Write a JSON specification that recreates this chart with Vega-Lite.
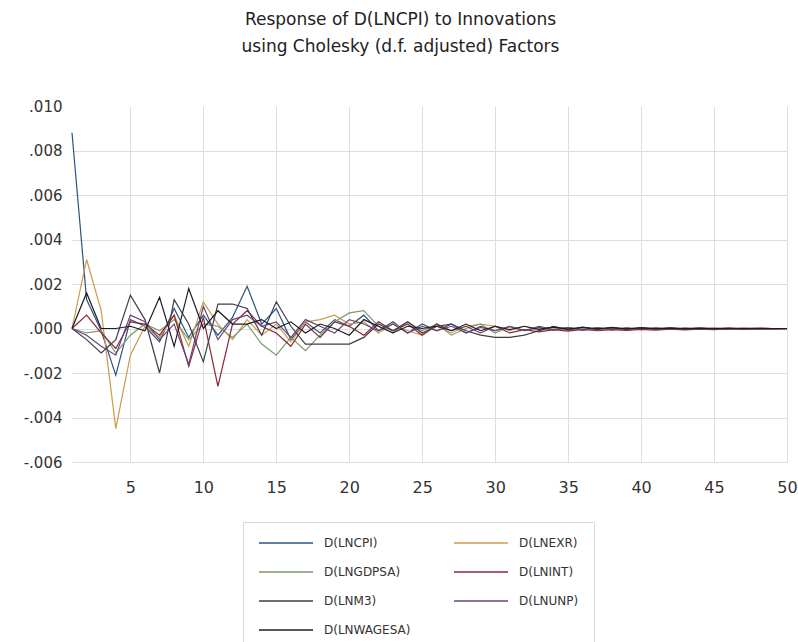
{
  "$schema": "https://vega.github.io/schema/vega-lite/v6.json",
  "width": 715,
  "height": 356,
  "autosize": "none",
  "padding": {"left": 72, "top": 106, "right": 11, "bottom": 180},
  "background": "white",
  "config": {"font": "DejaVu Sans", "view": {"stroke": null}},
  "title": {
    "text": ["Response of D(LNCPI) to Innovations", "using Cholesky (d.f. adjusted) Factors"],
    "fontSize": 17, "fontWeight": "normal", "color": "#222", "lineHeight": 27,
    "offset": 43, "anchor": "middle", "dx": -29
  },
  "data": {"values": [
    {"t":1,"s":"D(LNCPI)","v":0.0088},{"t":2,"s":"D(LNCPI)","v":0.0013},{"t":3,"s":"D(LNCPI)","v":-0.0001},{"t":4,"s":"D(LNCPI)","v":-0.0021},{"t":5,"s":"D(LNCPI)","v":0.0004},{"t":6,"s":"D(LNCPI)","v":0.0001},{"t":7,"s":"D(LNCPI)","v":-0.0006},{"t":8,"s":"D(LNCPI)","v":0.0009},{"t":9,"s":"D(LNCPI)","v":-0.0004},{"t":10,"s":"D(LNCPI)","v":0.0006},
    {"t":11,"s":"D(LNCPI)","v":-0.0003},{"t":12,"s":"D(LNCPI)","v":0.0005},{"t":13,"s":"D(LNCPI)","v":0.0019},{"t":14,"s":"D(LNCPI)","v":0.0002},{"t":15,"s":"D(LNCPI)","v":0.0009},{"t":16,"s":"D(LNCPI)","v":-0.0005},{"t":17,"s":"D(LNCPI)","v":0.0003},{"t":18,"s":"D(LNCPI)","v":-0.0002},{"t":19,"s":"D(LNCPI)","v":0.0004},{"t":20,"s":"D(LNCPI)","v":0.0001},
    {"t":21,"s":"D(LNCPI)","v":0.0006},{"t":22,"s":"D(LNCPI)","v":-0.0001},{"t":23,"s":"D(LNCPI)","v":0.0003},{"t":24,"s":"D(LNCPI)","v":-0.0002},{"t":25,"s":"D(LNCPI)","v":0.0002},{"t":26,"s":"D(LNCPI)","v":-0.0001},{"t":27,"s":"D(LNCPI)","v":0.0002},{"t":28,"s":"D(LNCPI)","v":-0.0002},{"t":29,"s":"D(LNCPI)","v":0.0001},{"t":30,"s":"D(LNCPI)","v":-0.0001},
    {"t":31,"s":"D(LNCPI)","v":0.0001},{"t":32,"s":"D(LNCPI)","v":-0.0001},{"t":33,"s":"D(LNCPI)","v":0.0001},{"t":34,"s":"D(LNCPI)","v":-0.00005},{"t":35,"s":"D(LNCPI)","v":0.00005},{"t":36,"s":"D(LNCPI)","v":-0.00008},{"t":37,"s":"D(LNCPI)","v":0.00004},{"t":38,"s":"D(LNCPI)","v":-0.00006},{"t":39,"s":"D(LNCPI)","v":0.00003},{"t":40,"s":"D(LNCPI)","v":-0.00005},
    {"t":41,"s":"D(LNCPI)","v":0.00002},{"t":42,"s":"D(LNCPI)","v":-0.00004},{"t":43,"s":"D(LNCPI)","v":0.00002},{"t":44,"s":"D(LNCPI)","v":-0.00003},{"t":45,"s":"D(LNCPI)","v":0.00001},{"t":46,"s":"D(LNCPI)","v":-0.00003},{"t":47,"s":"D(LNCPI)","v":0.00001},{"t":48,"s":"D(LNCPI)","v":-0.00002},{"t":49,"s":"D(LNCPI)","v":0.0},{"t":50,"s":"D(LNCPI)","v":-0.00001},

    {"t":1,"s":"D(LNEXR)","v":0.0},{"t":2,"s":"D(LNEXR)","v":0.0031},{"t":3,"s":"D(LNEXR)","v":0.0008},{"t":4,"s":"D(LNEXR)","v":-0.0045},{"t":5,"s":"D(LNEXR)","v":-0.0012},{"t":6,"s":"D(LNEXR)","v":0.0001},{"t":7,"s":"D(LNEXR)","v":-0.0004},{"t":8,"s":"D(LNEXR)","v":0.0006},{"t":9,"s":"D(LNEXR)","v":-0.0008},{"t":10,"s":"D(LNEXR)","v":0.0012},
    {"t":11,"s":"D(LNEXR)","v":0.0002},{"t":12,"s":"D(LNEXR)","v":-0.0005},{"t":13,"s":"D(LNEXR)","v":0.0004},{"t":14,"s":"D(LNEXR)","v":-0.0003},{"t":15,"s":"D(LNEXR)","v":0.0002},{"t":16,"s":"D(LNEXR)","v":-0.0006},{"t":17,"s":"D(LNEXR)","v":0.0003},{"t":18,"s":"D(LNEXR)","v":0.0004},{"t":19,"s":"D(LNEXR)","v":0.0006},{"t":20,"s":"D(LNEXR)","v":0.0002},
    {"t":21,"s":"D(LNEXR)","v":0.0003},{"t":22,"s":"D(LNEXR)","v":-0.0002},{"t":23,"s":"D(LNEXR)","v":0.0002},{"t":24,"s":"D(LNEXR)","v":-0.0001},{"t":25,"s":"D(LNEXR)","v":-0.0003},{"t":26,"s":"D(LNEXR)","v":0.0001},{"t":27,"s":"D(LNEXR)","v":-0.0002},{"t":28,"s":"D(LNEXR)","v":0.0001},{"t":29,"s":"D(LNEXR)","v":0.0002},{"t":30,"s":"D(LNEXR)","v":0.0001},
    {"t":31,"s":"D(LNEXR)","v":-0.0001},{"t":32,"s":"D(LNEXR)","v":0.0001},{"t":33,"s":"D(LNEXR)","v":-0.0001},{"t":34,"s":"D(LNEXR)","v":0.00003},{"t":35,"s":"D(LNEXR)","v":-0.00008},{"t":36,"s":"D(LNEXR)","v":0.00004},{"t":37,"s":"D(LNEXR)","v":-0.00006},{"t":38,"s":"D(LNEXR)","v":0.00003},{"t":39,"s":"D(LNEXR)","v":-0.00005},{"t":40,"s":"D(LNEXR)","v":0.00002},
    {"t":41,"s":"D(LNEXR)","v":-0.00004},{"t":42,"s":"D(LNEXR)","v":0.00002},{"t":43,"s":"D(LNEXR)","v":-0.00003},{"t":44,"s":"D(LNEXR)","v":0.00001},{"t":45,"s":"D(LNEXR)","v":-0.00003},{"t":46,"s":"D(LNEXR)","v":0.00001},{"t":47,"s":"D(LNEXR)","v":-0.00002},{"t":48,"s":"D(LNEXR)","v":0.00001},{"t":49,"s":"D(LNEXR)","v":-0.00001},{"t":50,"s":"D(LNEXR)","v":0.0},

    {"t":1,"s":"D(LNGDPSA)","v":0.0},{"t":2,"s":"D(LNGDPSA)","v":-0.0002},{"t":3,"s":"D(LNGDPSA)","v":-0.0001},{"t":4,"s":"D(LNGDPSA)","v":-0.0011},{"t":5,"s":"D(LNGDPSA)","v":-0.0003},{"t":6,"s":"D(LNGDPSA)","v":0.0002},{"t":7,"s":"D(LNGDPSA)","v":-0.0001},{"t":8,"s":"D(LNGDPSA)","v":0.0004},{"t":9,"s":"D(LNGDPSA)","v":-0.0005},{"t":10,"s":"D(LNGDPSA)","v":0.0002},
    {"t":11,"s":"D(LNGDPSA)","v":0.0001},{"t":12,"s":"D(LNGDPSA)","v":-0.0004},{"t":13,"s":"D(LNGDPSA)","v":0.0002},{"t":14,"s":"D(LNGDPSA)","v":-0.0007},{"t":15,"s":"D(LNGDPSA)","v":-0.0012},{"t":16,"s":"D(LNGDPSA)","v":-0.0004},{"t":17,"s":"D(LNGDPSA)","v":-0.0010},{"t":18,"s":"D(LNGDPSA)","v":-0.0003},{"t":19,"s":"D(LNGDPSA)","v":0.0003},{"t":20,"s":"D(LNGDPSA)","v":0.0007},
    {"t":21,"s":"D(LNGDPSA)","v":0.0008},{"t":22,"s":"D(LNGDPSA)","v":0.0001},{"t":23,"s":"D(LNGDPSA)","v":-0.0002},{"t":24,"s":"D(LNGDPSA)","v":0.0003},{"t":25,"s":"D(LNGDPSA)","v":-0.0001},{"t":26,"s":"D(LNGDPSA)","v":0.0002},{"t":27,"s":"D(LNGDPSA)","v":-0.0003},{"t":28,"s":"D(LNGDPSA)","v":0.0},{"t":29,"s":"D(LNGDPSA)","v":0.0002},{"t":30,"s":"D(LNGDPSA)","v":-0.0002},
    {"t":31,"s":"D(LNGDPSA)","v":0.0001},{"t":32,"s":"D(LNGDPSA)","v":-0.0001},{"t":33,"s":"D(LNGDPSA)","v":0.00005},{"t":34,"s":"D(LNGDPSA)","v":-0.00008},{"t":35,"s":"D(LNGDPSA)","v":0.00004},{"t":36,"s":"D(LNGDPSA)","v":-0.00006},{"t":37,"s":"D(LNGDPSA)","v":0.00003},{"t":38,"s":"D(LNGDPSA)","v":-0.00005},{"t":39,"s":"D(LNGDPSA)","v":0.00002},{"t":40,"s":"D(LNGDPSA)","v":-0.00004},
    {"t":41,"s":"D(LNGDPSA)","v":0.00002},{"t":42,"s":"D(LNGDPSA)","v":-0.00003},{"t":43,"s":"D(LNGDPSA)","v":0.00001},{"t":44,"s":"D(LNGDPSA)","v":-0.00003},{"t":45,"s":"D(LNGDPSA)","v":0.00001},{"t":46,"s":"D(LNGDPSA)","v":-0.00002},{"t":47,"s":"D(LNGDPSA)","v":0.00001},{"t":48,"s":"D(LNGDPSA)","v":-0.00002},{"t":49,"s":"D(LNGDPSA)","v":0.0},{"t":50,"s":"D(LNGDPSA)","v":-0.00001},

    {"t":1,"s":"D(LNINT)","v":0.0},{"t":2,"s":"D(LNINT)","v":0.0006},{"t":3,"s":"D(LNINT)","v":-0.0002},{"t":4,"s":"D(LNINT)","v":-0.0009},{"t":5,"s":"D(LNINT)","v":0.0003},{"t":6,"s":"D(LNINT)","v":0.0002},{"t":7,"s":"D(LNINT)","v":-0.0003},{"t":8,"s":"D(LNINT)","v":0.0006},{"t":9,"s":"D(LNINT)","v":-0.0017},{"t":10,"s":"D(LNINT)","v":0.0005},
    {"t":11,"s":"D(LNINT)","v":-0.0026},{"t":12,"s":"D(LNINT)","v":0.0002},{"t":13,"s":"D(LNINT)","v":0.0008},{"t":14,"s":"D(LNINT)","v":0.0001},{"t":15,"s":"D(LNINT)","v":-0.0002},{"t":16,"s":"D(LNINT)","v":-0.0008},{"t":17,"s":"D(LNINT)","v":0.0002},{"t":18,"s":"D(LNINT)","v":-0.0004},{"t":19,"s":"D(LNINT)","v":0.0003},{"t":20,"s":"D(LNINT)","v":0.0001},
    {"t":21,"s":"D(LNINT)","v":-0.0003},{"t":22,"s":"D(LNINT)","v":0.0003},{"t":23,"s":"D(LNINT)","v":-0.0001},{"t":24,"s":"D(LNINT)","v":0.0002},{"t":25,"s":"D(LNINT)","v":-0.0003},{"t":26,"s":"D(LNINT)","v":0.0002},{"t":27,"s":"D(LNINT)","v":-0.0001},{"t":28,"s":"D(LNINT)","v":0.0001},{"t":29,"s":"D(LNINT)","v":-0.0002},{"t":30,"s":"D(LNINT)","v":0.0001},
    {"t":31,"s":"D(LNINT)","v":-0.0002},{"t":32,"s":"D(LNINT)","v":-0.00005},{"t":33,"s":"D(LNINT)","v":-0.00015},{"t":34,"s":"D(LNINT)","v":-0.00005},{"t":35,"s":"D(LNINT)","v":-0.00012},{"t":36,"s":"D(LNINT)","v":-0.00004},{"t":37,"s":"D(LNINT)","v":-0.0001},{"t":38,"s":"D(LNINT)","v":-0.00005},{"t":39,"s":"D(LNINT)","v":-0.00008},{"t":40,"s":"D(LNINT)","v":-0.00004},
    {"t":41,"s":"D(LNINT)","v":-0.00007},{"t":42,"s":"D(LNINT)","v":-0.00003},{"t":43,"s":"D(LNINT)","v":-0.00006},{"t":44,"s":"D(LNINT)","v":-0.00003},{"t":45,"s":"D(LNINT)","v":-0.00005},{"t":46,"s":"D(LNINT)","v":-0.00002},{"t":47,"s":"D(LNINT)","v":-0.00004},{"t":48,"s":"D(LNINT)","v":-0.00002},{"t":49,"s":"D(LNINT)","v":-0.00003},{"t":50,"s":"D(LNINT)","v":-0.00001},

    {"t":1,"s":"D(LNM3)","v":0.0},{"t":2,"s":"D(LNM3)","v":-0.0005},{"t":3,"s":"D(LNM3)","v":-0.0011},{"t":4,"s":"D(LNM3)","v":-0.0005},{"t":5,"s":"D(LNM3)","v":0.0015},{"t":6,"s":"D(LNM3)","v":0.0004},{"t":7,"s":"D(LNM3)","v":-0.0020},{"t":8,"s":"D(LNM3)","v":0.0013},{"t":9,"s":"D(LNM3)","v":0.0002},{"t":10,"s":"D(LNM3)","v":-0.0015},
    {"t":11,"s":"D(LNM3)","v":0.0011},{"t":12,"s":"D(LNM3)","v":0.0011},{"t":13,"s":"D(LNM3)","v":0.0009},{"t":14,"s":"D(LNM3)","v":-0.0003},{"t":15,"s":"D(LNM3)","v":0.0012},{"t":16,"s":"D(LNM3)","v":0.0001},{"t":17,"s":"D(LNM3)","v":-0.0007},{"t":18,"s":"D(LNM3)","v":-0.0007},{"t":19,"s":"D(LNM3)","v":-0.0007},{"t":20,"s":"D(LNM3)","v":-0.0007},
    {"t":21,"s":"D(LNM3)","v":-0.0004},{"t":22,"s":"D(LNM3)","v":0.0002},{"t":23,"s":"D(LNM3)","v":-0.0001},{"t":24,"s":"D(LNM3)","v":0.0003},{"t":25,"s":"D(LNM3)","v":-0.0002},{"t":26,"s":"D(LNM3)","v":0.0001},{"t":27,"s":"D(LNM3)","v":0.0002},{"t":28,"s":"D(LNM3)","v":-0.0001},{"t":29,"s":"D(LNM3)","v":-0.0003},{"t":30,"s":"D(LNM3)","v":-0.0004},
    {"t":31,"s":"D(LNM3)","v":-0.0004},{"t":32,"s":"D(LNM3)","v":-0.0003},{"t":33,"s":"D(LNM3)","v":-0.0001},{"t":34,"s":"D(LNM3)","v":0.0001},{"t":35,"s":"D(LNM3)","v":-0.00005},{"t":36,"s":"D(LNM3)","v":0.00006},{"t":37,"s":"D(LNM3)","v":-0.00004},{"t":38,"s":"D(LNM3)","v":0.00005},{"t":39,"s":"D(LNM3)","v":-0.00003},{"t":40,"s":"D(LNM3)","v":0.00004},
    {"t":41,"s":"D(LNM3)","v":-0.00002},{"t":42,"s":"D(LNM3)","v":0.00003},{"t":43,"s":"D(LNM3)","v":-0.00002},{"t":44,"s":"D(LNM3)","v":0.00002},{"t":45,"s":"D(LNM3)","v":-0.00001},{"t":46,"s":"D(LNM3)","v":0.00002},{"t":47,"s":"D(LNM3)","v":-0.00001},{"t":48,"s":"D(LNM3)","v":0.00001},{"t":49,"s":"D(LNM3)","v":0.0},{"t":50,"s":"D(LNM3)","v":0.0},

    {"t":1,"s":"D(LNUNP)","v":0.0},{"t":2,"s":"D(LNUNP)","v":-0.0003},{"t":3,"s":"D(LNUNP)","v":-0.0008},{"t":4,"s":"D(LNUNP)","v":-0.0012},{"t":5,"s":"D(LNUNP)","v":0.0006},{"t":6,"s":"D(LNUNP)","v":0.0003},{"t":7,"s":"D(LNUNP)","v":-0.0005},{"t":8,"s":"D(LNUNP)","v":0.0002},{"t":9,"s":"D(LNUNP)","v":-0.0016},{"t":10,"s":"D(LNUNP)","v":0.0010},
    {"t":11,"s":"D(LNUNP)","v":-0.0005},{"t":12,"s":"D(LNUNP)","v":0.0004},{"t":13,"s":"D(LNUNP)","v":0.0006},{"t":14,"s":"D(LNUNP)","v":0.0001},{"t":15,"s":"D(LNUNP)","v":0.0003},{"t":16,"s":"D(LNUNP)","v":-0.0004},{"t":17,"s":"D(LNUNP)","v":0.0004},{"t":18,"s":"D(LNUNP)","v":0.0001},{"t":19,"s":"D(LNUNP)","v":-0.0002},{"t":20,"s":"D(LNUNP)","v":0.0004},
    {"t":21,"s":"D(LNUNP)","v":0.0002},{"t":22,"s":"D(LNUNP)","v":-0.0001},{"t":23,"s":"D(LNUNP)","v":0.0002},{"t":24,"s":"D(LNUNP)","v":-0.0002},{"t":25,"s":"D(LNUNP)","v":0.0001},{"t":26,"s":"D(LNUNP)","v":-0.0001},{"t":27,"s":"D(LNUNP)","v":0.0001},{"t":28,"s":"D(LNUNP)","v":-0.0002},{"t":29,"s":"D(LNUNP)","v":0.00005},{"t":30,"s":"D(LNUNP)","v":-0.0001},
    {"t":31,"s":"D(LNUNP)","v":0.00008},{"t":32,"s":"D(LNUNP)","v":-0.00008},{"t":33,"s":"D(LNUNP)","v":0.00005},{"t":34,"s":"D(LNUNP)","v":-0.00006},{"t":35,"s":"D(LNUNP)","v":0.00004},{"t":36,"s":"D(LNUNP)","v":-0.00005},{"t":37,"s":"D(LNUNP)","v":0.00003},{"t":38,"s":"D(LNUNP)","v":-0.00004},{"t":39,"s":"D(LNUNP)","v":0.00002},{"t":40,"s":"D(LNUNP)","v":-0.00003},
    {"t":41,"s":"D(LNUNP)","v":0.00002},{"t":42,"s":"D(LNUNP)","v":-0.00003},{"t":43,"s":"D(LNUNP)","v":0.00001},{"t":44,"s":"D(LNUNP)","v":-0.00002},{"t":45,"s":"D(LNUNP)","v":0.00001},{"t":46,"s":"D(LNUNP)","v":-0.00002},{"t":47,"s":"D(LNUNP)","v":0.00001},{"t":48,"s":"D(LNUNP)","v":-0.00001},{"t":49,"s":"D(LNUNP)","v":0.0},{"t":50,"s":"D(LNUNP)","v":-0.00001},

    {"t":1,"s":"D(LNWAGESA)","v":0.0},{"t":2,"s":"D(LNWAGESA)","v":0.0016},{"t":3,"s":"D(LNWAGESA)","v":0.0},{"t":4,"s":"D(LNWAGESA)","v":0.0},{"t":5,"s":"D(LNWAGESA)","v":0.0001},{"t":6,"s":"D(LNWAGESA)","v":-0.0001},{"t":7,"s":"D(LNWAGESA)","v":0.0014},{"t":8,"s":"D(LNWAGESA)","v":-0.0008},{"t":9,"s":"D(LNWAGESA)","v":0.0018},{"t":10,"s":"D(LNWAGESA)","v":0.0},
    {"t":11,"s":"D(LNWAGESA)","v":0.0008},{"t":12,"s":"D(LNWAGESA)","v":0.0002},{"t":13,"s":"D(LNWAGESA)","v":0.0002},{"t":14,"s":"D(LNWAGESA)","v":0.0004},{"t":15,"s":"D(LNWAGESA)","v":0.0},{"t":16,"s":"D(LNWAGESA)","v":0.0003},{"t":17,"s":"D(LNWAGESA)","v":-0.0002},{"t":18,"s":"D(LNWAGESA)","v":0.0002},{"t":19,"s":"D(LNWAGESA)","v":0.0},{"t":20,"s":"D(LNWAGESA)","v":-0.0003},
    {"t":21,"s":"D(LNWAGESA)","v":0.0004},{"t":22,"s":"D(LNWAGESA)","v":0.0001},{"t":23,"s":"D(LNWAGESA)","v":-0.0002},{"t":24,"s":"D(LNWAGESA)","v":0.0001},{"t":25,"s":"D(LNWAGESA)","v":0.0},{"t":26,"s":"D(LNWAGESA)","v":0.0001},{"t":27,"s":"D(LNWAGESA)","v":-0.0001},{"t":28,"s":"D(LNWAGESA)","v":0.0002},{"t":29,"s":"D(LNWAGESA)","v":-0.0001},{"t":30,"s":"D(LNWAGESA)","v":0.0001},
    {"t":31,"s":"D(LNWAGESA)","v":-0.00005},{"t":32,"s":"D(LNWAGESA)","v":0.0001},{"t":33,"s":"D(LNWAGESA)","v":-0.00004},{"t":34,"s":"D(LNWAGESA)","v":0.00006},{"t":35,"s":"D(LNWAGESA)","v":-0.00003},{"t":36,"s":"D(LNWAGESA)","v":0.00005},{"t":37,"s":"D(LNWAGESA)","v":-0.00002},{"t":38,"s":"D(LNWAGESA)","v":0.00004},{"t":39,"s":"D(LNWAGESA)","v":-0.00002},{"t":40,"s":"D(LNWAGESA)","v":0.00003},
    {"t":41,"s":"D(LNWAGESA)","v":-0.00001},{"t":42,"s":"D(LNWAGESA)","v":0.00002},{"t":43,"s":"D(LNWAGESA)","v":-0.00001},{"t":44,"s":"D(LNWAGESA)","v":0.00002},{"t":45,"s":"D(LNWAGESA)","v":0.0},{"t":46,"s":"D(LNWAGESA)","v":0.00001},{"t":47,"s":"D(LNWAGESA)","v":0.0},{"t":48,"s":"D(LNWAGESA)","v":0.00001},{"t":49,"s":"D(LNWAGESA)","v":0.0},{"t":50,"s":"D(LNWAGESA)","v":0.0}
  ]},
  "mark": {"type": "line", "strokeWidth": 1.2, "clip": false},
  "encoding": {
    "x": {
      "field": "t", "type": "quantitative",
      "scale": {"domain": [1, 50], "nice": false, "zero": false},
      "axis": {
        "values": [5, 10, 15, 20, 25, 30, 35, 40, 45, 50],
        "title": null, "domain": false, "ticks": false,
        "labelFontSize": 16, "labelColor": "#333", "labelPadding": 17,
        "labelFlush": false, "gridColor": "#dedede"
      }
    },
    "y": {
      "field": "v", "type": "quantitative",
      "scale": {"domain": [-0.006, 0.010], "nice": false, "zero": false},
      "axis": {
        "values": [-0.006, -0.004, -0.002, 0, 0.002, 0.004, 0.006, 0.008, 0.010],
        "labelExpr": "(datum.value < 0 ? '-' : '') + replace(format(abs(datum.value), '.3f'), '0.', '.')",
        "title": null, "domain": false, "ticks": false,
        "labelFontSize": 15, "labelColor": "#333", "labelPadding": 10,
        "gridColor": "#dedede",
        "gridOpacity": {"condition": {"test": "datum.value > 0.009", "value": 0}, "value": 1}
      }
    },
    "color": {
      "field": "s", "type": "nominal",
      "scale": {
        "domain": ["D(LNCPI)", "D(LNEXR)", "D(LNGDPSA)", "D(LNINT)", "D(LNM3)", "D(LNUNP)", "D(LNWAGESA)"],
        "range": ["#2b5580", "#cc9a4a", "#7c9a70", "#8a2838", "#3c3c4c", "#6a4478", "#1c1c24"]
      },
      "legend": {
        "orient": "none", "legendX": 171, "legendY": 416,
        "direction": "horizontal",
        "columns": 2, "title": null,
        "symbolType": "M-1,0H9.8", "symbolSize": 100, "symbolStrokeWidth": 1.5,
        "labelFontSize": 12, "labelColor": "#333", "labelOffset": 54, "labelLimit": 200,
        "rowPadding": 17, "columnPadding": 40, "padding": 15,
        "strokeColor": "#d8d8d8", "fillColor": "white"
      }
    }
  }
}
